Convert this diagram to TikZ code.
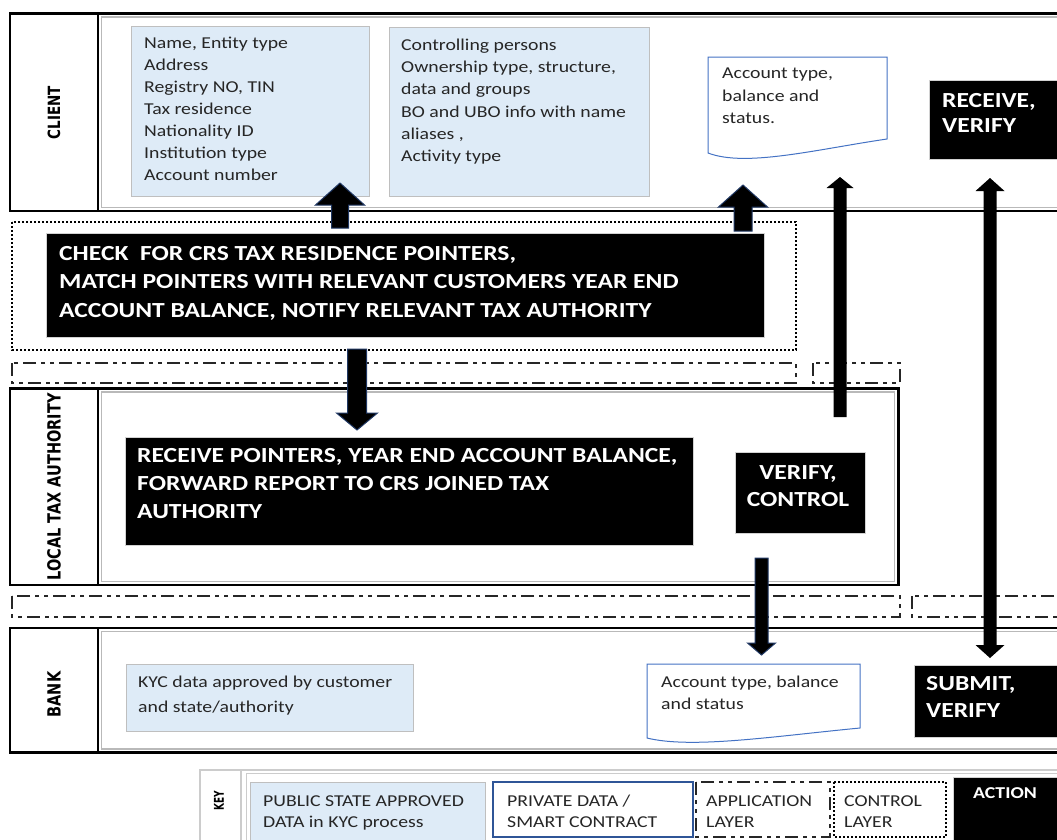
\documentclass[tikz,border=0pt]{standalone}
\usepackage{fontspec}
\setmainfont{Carlito}[FakeStretch=1.19]
\newfontfamily\labfont{DejaVu Sans}
\usetikzlibrary{calc}
\definecolor{kycblue}{HTML}{DEEBF7}
\definecolor{boxgrey}{HTML}{BFBFBF}
\definecolor{docblue}{HTML}{4472C4}
\definecolor{navy}{HTML}{203864}
\definecolor{privblue}{HTML}{2F5597}
\definecolor{txt}{HTML}{262626}
\newcommand\uparr[6][arrowline]{%
  \path[#1] let \p1=(#2), \p2=(#3) in
   (\x1-#4,\y1) -- (\x1-#4,\y2-#6) -- (\x1-#5,\y2-#6) -- (\x1,\y2) -- (\x1+#5,\y2-#6) -- (\x1+#4,\y2-#6) -- (\x1+#4,\y1) -- cycle;}
\newcommand\downarr[6][arrowline]{%
  \path[#1] let \p1=(#2), \p2=(#3) in
   (\x1-#4,\y1) -- (\x1-#4,\y2+#6) -- (\x1-#5,\y2+#6) -- (\x1,\y2) -- (\x1+#5,\y2+#6) -- (\x1+#4,\y2+#6) -- (\x1+#4,\y1) -- cycle;}
\newcommand\dblarr[5]{%
  \path[arrowplain] let \p1=(#1), \p2=(#2) in
   (\x1,\y1) -- (\x1+#4,\y1-#5) -- (\x1+#3,\y1-#5) -- (\x1+#3,\y2+#5) -- (\x1+#4,\y2+#5) -- (\x1,\y2)
   -- (\x1-#4,\y2+#5) -- (\x1-#3,\y2+#5) -- (\x1-#3,\y1-#5) -- (\x1-#4,\y1-#5) -- cycle;}
% L T R Bl Br
\newcommand\docshape[5]{%
  \draw[docline] (#1,#2) -- (#3,#2) -- (#3,#5)
    .. controls ({#1+0.6*(#3-#1)},{#5+0.11*(#4-#2)}) and ({#1+0.21*(#3-#1)},{#4+0.15*(#4-#2)}) .. (#1,#4) -- cycle;}
\begin{document}
\begin{tikzpicture}[x=1pt,y=-1pt,
  lane/.style={draw=black, line width=2.6pt},
  laneinner/.style={draw=gray!55, line width=1.2pt},
  kycbox/.style={draw=boxgrey, fill=kycblue, line width=1.3pt, inner sep=0pt, anchor=north west},
  actbox/.style={draw=gray!35, fill=black, line width=1pt, inner sep=0pt, anchor=north west},
  ctrllayer/.style={draw=black, line width=1.3pt, dash pattern=on 2pt off 2pt},
  applayer/.style={draw=black!85, line width=1.3pt, dash pattern=on 13pt off 5pt on 4pt off 5pt on 4pt off 5pt},
  docline/.style={draw=docblue, line width=1pt, fill=white},
  bodytext/.style={font={\fontsize{16.6pt}{22pt}\selectfont}, text=txt, inner sep=0pt, anchor=base west, align=left},
  keytext/.style={font={\fontsize{16.6pt}{21pt}\selectfont}, text=txt, inner sep=0pt, anchor=base west, align=left},
  acttext/.style={font={\bfseries\fontsize{21.5pt}{28.5pt}\selectfont}, text=white, inner sep=0pt, anchor=base west, align=left},
  lanelabel/.style={font={\labfont\bfseries\fontsize{14.5pt}{14.5pt}\selectfont}, rotate=90, yscale=1.25, inner sep=0pt},
  arrowline/.style={fill=black, draw=navy, line width=1pt, line join=miter},
  arrowplain/.style={fill=black}]
\useasboundingbox (0,0) rectangle (1057,839);
\fill[white] (0,0) rectangle (1057,839);
% (multi-line text nodes are placed at the baseline of their LAST line)

% ---------------- CLIENT lane
\draw[lane] (10,13.5) rectangle (1070,211);
\draw[lane] (98,13.5) -- (98,211);
\draw[laneinner] (101.5,17) rectangle (1070,207.5);
\node[lanelabel, font={\labfont\bfseries\fontsize{13.5pt}{13.5pt}\selectfont}] (lclient) at (54,112.5) {CLIENT};

\node[kycbox, minimum width=238pt, minimum height=170pt] (kyc1) at (131,26) {};
\node[bodytext] (kyc1t) at (144,180.5) {Name, Entity type\\Address\\Registry NO, TIN\\Tax residence\\Nationality ID\\Institution type\\Account number};
\node[kycbox, minimum width=260pt, minimum height=169pt] (kyc2) at (389,27) {};
\node[bodytext, font={\fontsize{16.6pt}{22.2pt}\selectfont}] (kyc2t) at (401,161.5) {Controlling persons\\Ownership type, structure,\\data and groups\\BO and UBO info with name\\aliases ,\\Activity type};

\docshape{708}{57}{887}{153}{139}
\node[bodytext, font={\fontsize{16.6pt}{22.5pt}\selectfont}] (cdoc) at (722,123.5) {Account type,\\balance and\\status.};

\node[actbox, minimum width=140pt, minimum height=79pt] (recv) at (929,80) {};
\node[acttext, font={\bfseries\fontsize{21.5pt}{25pt}\selectfont}] (recvt) at (942,132) {RECEIVE,\\VERIFY};

% ---------------- control layer
\draw[ctrllayer] (12,222) rectangle (796,350);
\node[actbox, minimum width=718pt, minimum height=104pt] (check) at (46,233) {};
\node[acttext] (checkt) at (59,317) {CHECK\ \ FOR CRS TAX RESIDENCE POINTERS,\\MATCH POINTERS WITH RELEVANT CUSTOMERS YEAR END\\ACCOUNT BALANCE, NOTIFY RELEVANT TAX AUTHORITY};

% ---------------- application layer row 1
\draw[applayer] (12,363) rectangle (796,383);
\draw[applayer] (813,363) rectangle (900,383);

% ---------------- LOCAL TAX AUTHORITY lane
\draw[lane] (10,388.5) rectangle (898.5,585);
\draw[lane] (98,388.5) -- (98,585);
\draw[laneinner] (101.5,392) rectangle (894.5,581.5);
\node[lanelabel] (llta) at (54,487) {LOCAL TAX AUTHORITY};

\node[actbox, minimum width=568pt, minimum height=108pt] (fwd) at (125,437) {};
\node[acttext, font={\bfseries\fontsize{21.5pt}{28pt}\selectfont}] (fwdt) at (137,518) {RECEIVE POINTERS, YEAR END ACCOUNT BALANCE,\\FORWARD REPORT TO CRS JOINED TAX\\AUTHORITY};
\node[actbox, minimum width=130pt, minimum height=81pt] (vc) at (735,452) {};
\node[acttext, anchor=base, align=center, font={\bfseries\fontsize{21.5pt}{27pt}\selectfont}] (vct) at (798,506) {VERIFY,\\CONTROL};

% ---------------- application layer row 2
\draw[applayer] (12,596) rectangle (900,617);
\draw[applayer] (912,596) rectangle (1070,617);

% ---------------- BANK lane
\draw[lane] (10,628) rectangle (1070,752.5);
\draw[lane] (98,628) -- (98,752.5);
\draw[laneinner] (101.5,631.5) rectangle (1070,749);
\node[lanelabel] (lbank) at (54,694.5) {BANK};

\node[kycbox, minimum width=287pt, minimum height=67pt] (kyc3) at (126,664) {};
\node[bodytext, font={\fontsize{16.6pt}{24.5pt}\selectfont}] (kyc3t) at (138,712) {KYC data approved by customer\\and state/authority};
\docshape{647}{664}{860}{738}{728}
\node[bodytext] (bdoc) at (661,709.5) {Account type, balance\\and status};
\node[actbox, minimum width=160pt, minimum height=72pt] (subm) at (914,665) {};
\node[acttext, font={\bfseries\fontsize{21.5pt}{27pt}\selectfont}] (submt) at (926,717) {SUBMIT,\\VERIFY};

% ---------------- KEY
\draw[draw=gray!40, line width=1.2pt] (200,770) rectangle (1070,850);
\draw[draw=gray!40, line width=1.2pt] (241,770) -- (241,850);
\draw[draw=gray!40, line width=1.2pt] (246.5,773.5) rectangle (1070,850);
\node[lanelabel, font={\labfont\bfseries\fontsize{9pt}{9pt}\selectfont}, yscale=1.2] (lkey) at (219,801) {KEY};
\node[kycbox, minimum width=235pt, minimum height=60pt] (k1) at (250,782) {};
\node[keytext] (k1t) at (263,827) {PUBLIC STATE APPROVED\\DATA in KYC process};
\draw[draw=privblue, line width=1.5pt] (493,782) rectangle (693,837);
\node[keytext] (k2t) at (507,827) {PRIVATE DATA /\\SMART CONTRACT};
\draw[applayer] (696,782) rectangle (830,837);
\node[keytext] (k3t) at (706,827) {APPLICATION\\LAYER};
\draw[ctrllayer] (834,782) rectangle (946,837);
\node[keytext] (k4t) at (844,827) {CONTROL\\LAYER};
\node[actbox, minimum width=120pt, minimum height=70pt] (k5) at (953,777) {};
\node[keytext, text=white, font={\bfseries\fontsize{16.6pt}{21pt}\selectfont}] (k5t) at (973,798.5) {ACTION};

% ---------------- arrows
\coordinate (a1tail) at (340,228);   \coordinate (a1tip) at (340,183);
\coordinate (a2tail) at (743,231);   \coordinate (a2tip) at (743,185);
\coordinate (a3tail) at (840,417);   \coordinate (a3tip) at (840,177);
\coordinate (a4top)  at (990,178);   \coordinate (a4bot) at (990,658);
\coordinate (a5tail) at (357,349);   \coordinate (a5tip) at (357,430);
\coordinate (a6tail) at (761.5,558); \coordinate (a6tip) at (761.5,655);
\uparr{a1tail}{a1tip}{8.5pt}{24.5pt}{22pt}
\uparr{a2tail}{a2tip}{9pt}{24.5pt}{22pt}
\uparr[arrowplain]{a3tail}{a3tip}{6.5pt}{13.5pt}{11pt}
\dblarr{a4top}{a4bot}{6.5pt}{14.5pt}{13pt}
\downarr{a5tail}{a5tip}{9.5pt}{20.5pt}{17pt}
\downarr{a6tail}{a6tip}{6.5pt}{14pt}{12pt}
\end{tikzpicture}
\end{document}
